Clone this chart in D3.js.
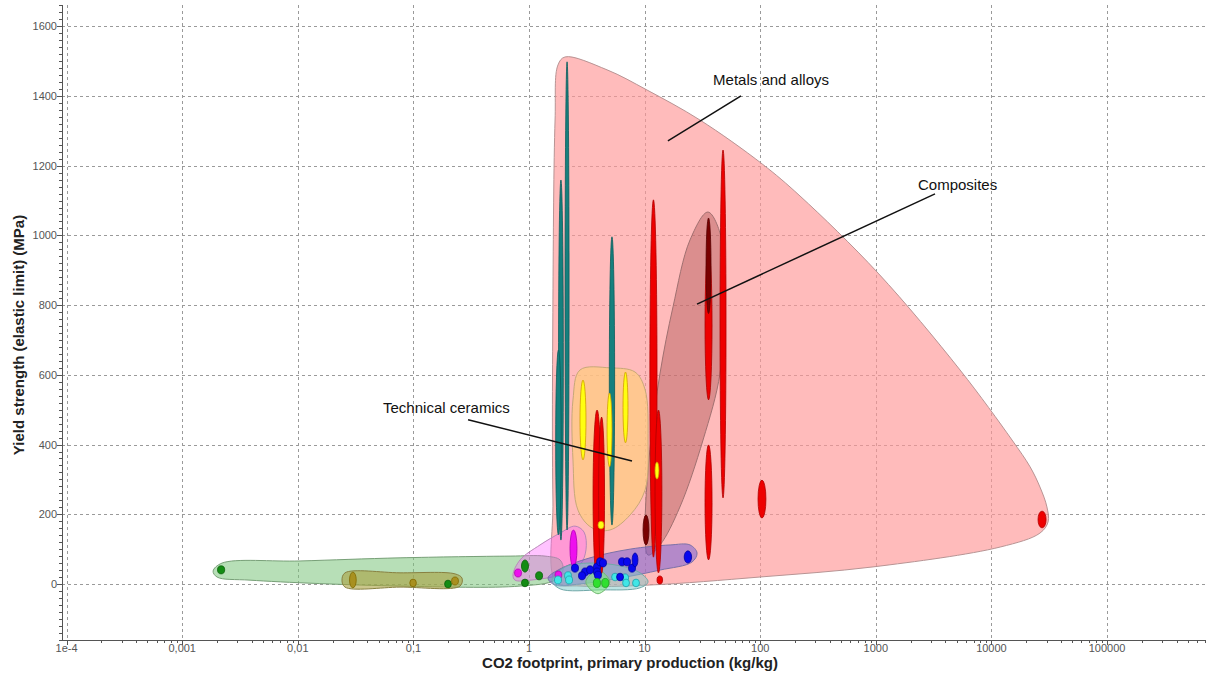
<!DOCTYPE html>
<html>
<head>
<meta charset="utf-8">
<script src="https://cdn.jsdelivr.net/npm/d3@7"></script>
<style>
  body { margin: 0; background: #fff; }
  svg { display: block; font-family: "Liberation Sans", Arial, sans-serif; }
</style>
</head>
<body>
<svg id="chart" width="1206" height="677"></svg>
<script>
// ---- axis ticks ----
const xTickValues = [1e-4, 1e-3, 1e-2, 1e-1, 1, 10, 100, 1000, 10000, 100000];
const xTickLabels = ["1e-4", "0,001", "0,01", "0,1", "1", "10", "100", "1000", "10000", "100000"];
const yTickValues = [0, 200, 400, 600, 800, 1000, 1200, 1400, 1600];
const yTickLabels = ["0", "200", "400", "600", "800", "1000", "1200", "1400", "1600"];

// ---- family envelopes: [CO2 footprint kg/kg, yield strength MPa] ----
const metalsEnvelope = [[2.05,1512],[4.73,1475],[10.5,1417],[30.1,1331],[104,1205],[221,1113],[1045,892],[5350,614],[15070,413],[21600,336],[26300,278],[30200,221],[30900,178],[26300,146],[11900,106],[946,49],[99.6,20],[11.1,-3],[2.76,-6],[1.71,6],[1.61,241],[1.61,815],[1.68,1331],[1.78,1489]];
const compositesEnvelope = [[35.3,1067],[46.7,987],[47.7,815],[44.9,605],[32.0,413],[20.2,221],[13.6,112],[10.7,83],[10.1,155],[11.1,385],[13.6,605],[17.6,795],[24.7,987]];
const ceramicsEnvelope = [[2.76,614],[5.02,620],[8.26,608],[10.1,557],[10.7,413],[10.1,270],[7.49,198],[5.02,155],[3.51,161],[2.65,212],[2.40,356],[2.40,528]];
const naturalEnvelope = [[0.00185,37],[0.00221,60],[0.01045,66],[0.0766,75],[0.685,80],[1.375,80],[1.855,69],[1.97,40],[1.68,11],[0.836,-6],[0.0766,-6],[0.00386,11],[0.0020,20]];
const oliveEnvelope = [[0.0256,32],[0.0766,32],[0.229,29],[0.263,17],[0.253,-6],[0.0766,-9],[0.0256,-9],[0.0241,11]];
const magentaEnvelope = [[0.727,26],[0.836,69],[1.245,112],[1.855,146],[2.50,166],[2.99,149],[3.11,98],[2.76,55],[1.855,26],[1.02,11],[0.757,11]];
const polymerEnvelope = [[1.46,17],[1.855,43],[3.37,75],[7.49,100],[16.6,112],[24.7,112],[28.4,89],[25.7,63],[13.6,40],[6.13,17],[2.76,0],[1.68,-3]];
const cyanEnvelope = [[1.58,11],[2.05,49],[3.37,60],[6.13,52],[9.13,32],[10.7,6],[9.13,-11],[4.11,-17],[1.855,-14]];
const limeEnvelope = [[3.10,6],[3.95,40],[5.0,6],[3.95,-28]];

// ---- material bubbles: [x low, x high, y low, y high] ----
const tealBubbles = [[2.05,2.22,155,1498],[1.80,1.98,126,1159],[1.70,1.90,141,671],[4.95,5.50,169,996]];
const redBubbles = [[3.58,4.20,11,499],[4.00,4.50,30,479],[11.1,12.8,77,1102],[12.3,14.1,32,499],[33.3,38.3,528,958],[44.9,50.6,247,1245],[33.3,38.3,69,399],[95.7,112,189,298],[25300,29700,161,209],[12.8,14.3,0,23]];
const maroonBubbles = [[9.69,10.9,112,198],[34.0,37.5,776,1050]];
const yellowBubbles = [[2.76,3.11,356,585],[4.73,5.22,336,548],[6.50,7.18,405,608],[12.3,13.3,301,350],[3.95,4.45,158,180]];
const magentaBubbles = [[2.26,2.60,49,155],[0.75,0.86,20,43],[1.68,1.92,14,37]];
const greenBubbles = [[0.00202,0.00233,29,52],[0.86,0.99,34,69],[1.14,1.31,12,35],[0.86,0.99,-8,14],[0.186,0.213,-11,11]];
const oliveBubbles = [[0.028,0.032,-11,34],[0.093,0.106,-8,14],[0.214,0.245,-3,20]];
const cyanBubbles = [[1.66,1.91,0,23],[2.03,2.33,12,35],[2.07,2.38,0,23],[5.18,5.95,9,31],[6.32,7.26,6,29],[6.45,7.40,-8,14],[7.86,9.03,-8,14]];
const blueBubbles = [[2.33,2.68,34,57],[2.85,3.27,23,46],[3.15,3.61,29,52],[2.68,3.08,12,35],[3.61,4.15,37,60],[3.84,4.41,52,75],[4.07,4.68,49,72],[3.61,4.15,23,46],[3.68,4.23,14,37],[5.95,6.84,52,75],[6.57,7.55,52,75],[7.26,8.34,34,57],[7.80,8.75,49,89],[5.72,6.57,9,31],[22.0,25.5,60,95]];
const limeBubbles = [[3.60,4.15,-10,16],[4.25,4.90,-10,16]];

// ---- annotations ----
const labelTexts = ["Metals and alloys", "Composites", "Technical ceramics"];
const labelAnchors = [[39.1,1432],[2317,1131],[0.0546,491]];
const leaderStarts = [[68.2,1400],[3250,1119],[0.297,471]];
const leaderEnds = [[15.9,1271],[28.4,803],[7.78,353]];

// ---- layout ----
const plot = { left: 62, right: 1206, top: 5, bottom: 640 };
const svg = d3.select("#chart");

const x = d3.scaleLog().domain([9.12e-5, 7.18e5]).range([plot.left, plot.right]);
const y = d3.scaleLinear().domain([-160.7, 1661]).range([plot.bottom, plot.top]);

const clipId = "plot-clip";
svg.append("defs").append("clipPath").attr("id", clipId)
  .append("rect").attr("x", plot.left).attr("y", plot.top)
  .attr("width", plot.right - plot.left).attr("height", plot.bottom - plot.top);

// grid
const grid = svg.append("g").attr("stroke", "#9a9a9a").attr("stroke-width", 1)
  .attr("stroke-dasharray", "3,3");
grid.selectAll("line.gx").data(xTickValues).join("line")
  .attr("x1", d => Math.round(x(d)) + 0.5).attr("x2", d => Math.round(x(d)) + 0.5)
  .attr("y1", plot.top).attr("y2", plot.bottom);
grid.selectAll("line.gy").data(yTickValues).join("line")
  .attr("y1", d => Math.round(y(d)) + 0.5).attr("y2", d => Math.round(y(d)) + 0.5)
  .attr("x1", plot.left).attr("x2", plot.right);

const body = svg.append("g").attr("clip-path", `url(#${clipId})`);

// envelopes
const envLine = d3.line().x(d => x(d[0])).y(d => y(d[1]))
  .curve(d3.curveCatmullRomClosed.alpha(0.5));
const envelopes = [
  { pts: metalsEnvelope, fill: "#ff9898", op: 0.66, stroke: "#b89494" },
  { pts: compositesEnvelope, fill: "#9c4040", op: 0.36, stroke: "#a07070" },
  { pts: ceramicsEnvelope, fill: "#ffcc80", op: 0.72, stroke: "#c8a878" },
  { pts: naturalEnvelope, fill: "#7cc47c", op: 0.55, stroke: "#78a078" },
  { pts: oliveEnvelope, fill: "#a8a040", op: 0.6, stroke: "#888040" },
  { pts: magentaEnvelope, fill: "#ff60ff", op: 0.38, stroke: "#b888b8" },
  { pts: polymerEnvelope, fill: "#6a58d8", op: 0.5, stroke: "#7a70a8" },
  { pts: cyanEnvelope, fill: "#7cc8c8", op: 0.5, stroke: "#70a8a8" },
  { pts: limeEnvelope, fill: "#80e880", op: 0.55, stroke: "#70b870" }
];
body.selectAll("path.env").data(envelopes).join("path")
  .attr("class", "env")
  .attr("d", d => envLine(d.pts))
  .attr("fill", d => d.fill).attr("fill-opacity", d => d.op)
  .attr("stroke", d => d.stroke).attr("stroke-width", 1);

// bubbles
function drawBubbles(data, fill, stroke) {
  body.append("g").selectAll("ellipse").data(data).join("ellipse")
    .attr("cx", d => (x(d[0]) + x(d[1])) / 2)
    .attr("cy", d => (y(d[2]) + y(d[3])) / 2)
    .attr("rx", d => Math.abs(x(d[1]) - x(d[0])) / 2)
    .attr("ry", d => Math.abs(y(d[3]) - y(d[2])) / 2)
    .attr("fill", fill).attr("stroke", stroke).attr("stroke-width", 0.8);
}
drawBubbles(tealBubbles, "#15807e", "#0b5c5a");
drawBubbles(redBubbles, "#ee0000", "#b00000");
drawBubbles(maroonBubbles, "#7a0000", "#550000");
drawBubbles(yellowBubbles, "#ffff10", "#d0a000");
drawBubbles(magentaBubbles, "#ee10ee", "#b000b0");
drawBubbles(greenBubbles, "#148c14", "#0a600a");
drawBubbles(oliveBubbles, "#a89020", "#806800");
drawBubbles(cyanBubbles, "#40e6e6", "#20a0a8");
drawBubbles(blueBubbles, "#0808ee", "#0000a0");
drawBubbles(limeBubbles, "#30e030", "#20a020");

// annotation leaders and labels
const ann = svg.append("g");
ann.selectAll("line").data(leaderStarts).join("line")
  .attr("x1", d => x(d[0])).attr("y1", d => y(d[1]))
  .attr("x2", (d, i) => x(leaderEnds[i][0])).attr("y2", (d, i) => y(leaderEnds[i][1]))
  .attr("stroke", "#111").attr("stroke-width", 1.5);
ann.selectAll("text").data(labelTexts).join("text")
  .attr("x", (d, i) => x(labelAnchors[i][0])).attr("y", (d, i) => y(labelAnchors[i][1]))
  .attr("font-size", 15).attr("fill", "#111").text(d => d);

// axes
const axisColor = "#555";
const ax = svg.append("g");
ax.append("line").attr("x1", plot.left + 0.5).attr("x2", plot.left + 0.5)
  .attr("y1", plot.top).attr("y2", plot.bottom).attr("stroke", axisColor);
ax.append("line").attr("x1", plot.left).attr("x2", plot.right)
  .attr("y1", plot.bottom + 0.5).attr("y2", plot.bottom + 0.5).attr("stroke", axisColor);

// x minor ticks
const xMinor = [];
for (let e = -5; e <= 5; e++) {
  for (let m = 2; m <= 9; m++) {
    const v = m * Math.pow(10, e);
    if (v > x.domain()[0] && v < x.domain()[1]) xMinor.push(v);
  }
}
ax.selectAll("line.xmin").data(xMinor).join("line")
  .attr("x1", d => Math.round(x(d)) + 0.5).attr("x2", d => Math.round(x(d)) + 0.5)
  .attr("y1", plot.bottom).attr("y2", plot.bottom + 3).attr("stroke", axisColor);
ax.selectAll("line.xmaj").data(xTickValues).join("line")
  .attr("x1", d => Math.round(x(d)) + 0.5).attr("x2", d => Math.round(x(d)) + 0.5)
  .attr("y1", plot.bottom).attr("y2", plot.bottom + 5).attr("stroke", axisColor);
ax.selectAll("text.xl").data(xTickValues).join("text")
  .attr("x", d => x(d)).attr("y", 652).attr("text-anchor", "middle")
  .attr("font-size", 11).attr("fill", "#555")
  .text((d, i) => xTickLabels[i]);

// y minor ticks
const yMinor = d3.range(-160, 1661, 20);
ax.selectAll("line.ymin").data(yMinor).join("line")
  .attr("y1", d => Math.round(y(d)) + 0.5).attr("y2", d => Math.round(y(d)) + 0.5)
  .attr("x1", plot.left - 3).attr("x2", plot.left).attr("stroke", axisColor);
ax.selectAll("line.ymaj").data(yTickValues).join("line")
  .attr("y1", d => Math.round(y(d)) + 0.5).attr("y2", d => Math.round(y(d)) + 0.5)
  .attr("x1", plot.left - 5).attr("x2", plot.left).attr("stroke", axisColor);
ax.selectAll("text.yl").data(yTickValues).join("text")
  .attr("x", plot.left - 5).attr("y", d => y(d) + 4).attr("text-anchor", "end")
  .attr("font-size", 11).attr("fill", "#555")
  .text((d, i) => yTickLabels[i]);

// axis titles
svg.append("text").attr("x", 630).attr("y", 668).attr("text-anchor", "middle")
  .attr("font-size", 15).attr("font-weight", "bold").attr("fill", "#222")
  .text("CO2 footprint, primary production (kg/kg)");
svg.append("text").attr("transform", "translate(24,335) rotate(-90)")
  .attr("text-anchor", "middle")
  .attr("font-size", 15).attr("font-weight", "bold").attr("fill", "#222")
  .text("Yield strength (elastic limit) (MPa)");
</script>
</body>
</html>
